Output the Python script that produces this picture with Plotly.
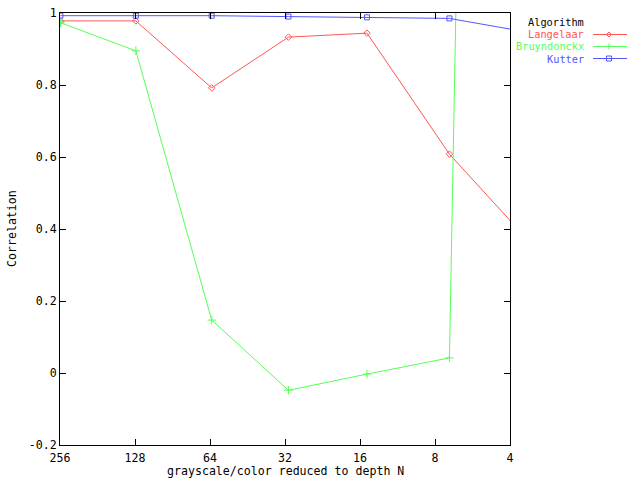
import math
import plotly.graph_objects as go

# ---- data ----
depth = [255, 127, 63, 31, 15, 7, 3]
langelaar = [0.978, 0.978, 0.792, 0.933, 0.944, 0.608, 0.329]
bruyndonckx = [0.973, 0.895, 0.147, -0.048, -0.003, 0.042, 13.8]
kutter = [0.9925, 0.9925, 0.9925, 0.990, 0.988, 0.985, 0.940]
x_ticks = [256, 128, 64, 32, 16, 8, 4]
y_ticks = [-0.2, 0, 0.2, 0.4, 0.6, 0.8, 1]
y_ticktext = ["-0.2", "0", "0.2", "0.4", "0.6", "0.8", "1"]
series_names = ["Langelaar", "Bruyndonckx", "Kutter"]

RED = "#ff5555"
GREEN = "#55ff55"
BLUE = "#5555ff"
FONT = "DejaVu Sans Mono"
FS = 11.6
LFS = 10.3

fig = go.Figure()
fig.add_trace(go.Scatter(x=depth, y=langelaar, mode="lines+markers", name=series_names[0],
                         line=dict(color=RED, width=1),
                         marker=dict(symbol="diamond-open", size=5, color=RED, line=dict(color=RED, width=1))))
fig.add_trace(go.Scatter(x=depth, y=bruyndonckx, mode="lines+markers", name=series_names[1],
                         line=dict(color=GREEN, width=1),
                         marker=dict(symbol="cross-thin-open", size=6, color=GREEN, line=dict(color=GREEN, width=1))))
fig.add_trace(go.Scatter(x=depth, y=kutter, mode="lines+markers", name=series_names[2],
                         line=dict(color=BLUE, width=1),
                         marker=dict(symbol="square-open", size=5, color=BLUE, line=dict(color=BLUE, width=1))))

L, R, T, B = 60, 130, 13, 35
W, H = 640, 480
PW, PH = W - L - R, H - T - B


def px(xp):
    return (xp - L) / PW


def py(yp):
    return (H - B - yp) / PH


annotations = [dict(text="Algorithm", x=px(586), y=py(22.5), xref="paper", yref="paper",
                    xanchor="right", yanchor="middle", showarrow=False,
                    font=dict(family=FONT, size=LFS, color="black"))]
shapes = []
colors = [RED, GREEN, BLUE]
rows = [34.5, 46.5, 58.5]
for name, c, yy in zip(series_names, colors, rows):
    annotations.append(dict(text=name, x=px(586), y=py(yy), xref="paper", yref="paper",
                            xanchor="right", yanchor="middle", showarrow=False,
                            font=dict(family=FONT, size=LFS, color=c)))
    shapes.append(dict(type="line", xref="paper", yref="paper", x0=px(593), x1=px(627),
                       y0=py(yy), y1=py(yy), line=dict(color=c, width=1)))
# legend samples' markers
mx = 609
yy = rows[0]
shapes.append(dict(type="path", xref="paper", yref="paper",
                   path=f"M {px(mx-2.5)} {py(yy)} L {px(mx)} {py(yy-2.5)} L {px(mx+2.5)} {py(yy)} L {px(mx)} {py(yy+2.5)} Z",
                   line=dict(color=RED, width=1)))
yy = rows[1]
shapes.append(dict(type="line", xref="paper", yref="paper", x0=px(mx), x1=px(mx),
                   y0=py(yy - 3), y1=py(yy + 3), line=dict(color=GREEN, width=1)))
yy = rows[2]
shapes.append(dict(type="rect", xref="paper", yref="paper", x0=px(mx - 2.5), x1=px(mx + 2.5),
                   y0=py(yy - 2.5), y1=py(yy + 2.5), line=dict(color=BLUE, width=1)))

# axis titles as annotations for exact placement
annotations.append(dict(text="grayscale/color reduced to depth N", x=px(285), y=py(471),
                        xref="paper", yref="paper", xanchor="center", yanchor="middle",
                        showarrow=False, font=dict(family=FONT, size=FS, color="black")))
annotations.append(dict(text="Correlation", x=px(12), y=py(229), textangle=-90,
                        xref="paper", yref="paper", xanchor="center", yanchor="middle",
                        showarrow=False, font=dict(family=FONT, size=FS, color="black")))

fig.update_layout(
    width=W, height=H,
    margin=dict(l=L, r=R, t=T, b=B, autoexpand=False),
    paper_bgcolor="white", plot_bgcolor="white",
    showlegend=False,
    font=dict(family=FONT, size=FS, color="black"),
    annotations=annotations,
    shapes=shapes,
    xaxis=dict(type="log", range=[math.log10(256), math.log10(4)], automargin=False,
               tickmode="array", tickvals=x_ticks, ticktext=[str(v) for v in x_ticks],
               ticks="inside", ticklen=6, tickcolor="black", mirror="allticks",
               showline=True, linecolor="black", linewidth=1, showgrid=False, zeroline=False,
               ticklabelstandoff=2),
    yaxis=dict(range=[-0.2, 1], tickmode="array", tickvals=y_ticks, ticktext=y_ticktext,
               automargin=False,
               ticks="inside", ticklen=6, tickcolor="black", mirror="allticks",
               showline=True, linecolor="black", linewidth=1, showgrid=False, zeroline=False),
)

fig.write_html("out.html", config={"displayModeBar": False},
               post_script="document.body.style.margin='0px';")
